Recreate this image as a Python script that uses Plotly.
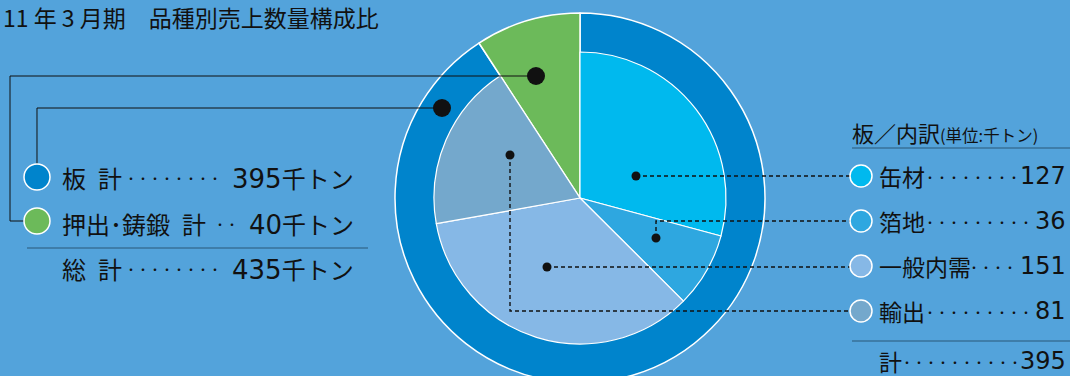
import plotly.graph_objects as go

title_text = "11 年 3 月期　品種別売上数量構成比"

# outer ring: 品種別 (千トン)
total_labels = ["板", "押出･鋳鍛"]
total_values = [395, 40]
total_colors = ["#0084cc", "#6cba5a"]

# inner pie: 板の内訳 (千トン)
plate_labels = ["缶材", "箔地", "一般内需", "輸出"]
plate_values = [127, 36, 151, 81]
plate_colors = ["#00b9ee", "#2ea7e0", "#86b8e6", "#74a8cc"]

W, H = 1070, 384
BG = "#53a3db"
FONT = "Noto Sans CJK JP"
NUMFONT = "DejaVu Sans"
INK = "#111111"
SP = "\u2002"


def px(x):
    return x / W


def py(y):
    return 1 - y / H


def circle(cx, cy, r, fill, line_color=None, lw=0):
    return dict(type="circle", xref="paper", yref="paper",
                x0=px(cx - r), x1=px(cx + r), y0=py(cy + r), y1=py(cy - r),
                fillcolor=fill, line=dict(color=line_color or fill, width=lw))


def path(pts, dash=None, width=1):
    d = "M %f %f " % (px(pts[0][0]), py(pts[0][1]))
    d += " ".join("L %f %f" % (px(a), py(b)) for a, b in pts[1:])
    ln = dict(color=INK, width=width)
    if dash:
        ln["dash"] = dash
    return dict(type="path", xref="paper", yref="paper", path=d, line=ln)


def hline(x0, x1, y):
    return dict(type="line", xref="paper", yref="paper", x0=px(x0), x1=px(x1),
                y0=py(y), y1=py(y), line=dict(color="#2b5878", width=1.2))


def text(x, y, s, size, anchor="left", family=FONT):
    return dict(x=px(x), y=py(y), xref="paper", yref="paper", text=s,
                showarrow=False, xanchor=anchor, yanchor="middle",
                font=dict(family=family, size=size, color=INK))


fig = go.Figure()

# outer ring (full pie underneath)
fig.add_trace(go.Pie(
    values=total_values, labels=total_labels, sort=False, direction="clockwise",
    marker=dict(colors=total_colors, line=dict(color="white", width=1.5)),
    textinfo="none", hoverinfo="label+value", showlegend=False,
    domain=dict(x=[px(395), px(765)], y=[py(383), py(13)]),
))

# inner pie, the green slice left transparent so the ring's green shows through
fig.add_trace(go.Pie(
    values=plate_values + [total_values[1]], labels=plate_labels + [total_labels[1]],
    sort=False, direction="clockwise",
    marker=dict(colors=plate_colors + ["rgba(0,0,0,0)"],
                line=dict(color=["white"] * 4 + ["rgba(0,0,0,0)"], width=1.2)),
    textinfo="none", hoverinfo="label+value", showlegend=False,
    domain=dict(x=[px(434), px(726)], y=[py(344), py(52)]),
))

shapes = []
ann = [text(1, 17, title_text, 23)]

# left legend
shapes.append(path([(536, 76), (10, 76), (10, 221), (24, 221)]))
shapes.append(path([(442, 108), (37, 108), (37, 164)]))
shapes.append(circle(536, 76, 9, INK))
shapes.append(circle(442, 108, 9, INK))

left_rows = [
    (total_labels[0] + SP + "計", total_values[0], 177, 129, 8, total_colors[0], 177),
    (total_labels[1] + SP + "計", total_values[1], 223, 218, 2, total_colors[1], 221),
    ("総" + SP + "計", sum(total_values), 268, 129, 8, None, None),
]
for lab, val, y, dx, nd, col, cy in left_rows:
    if col:
        shapes.append(circle(37, cy, 13, col, "white", 1.5))
    ann.append(text(60, y, lab, 24))
    ann.append(text(dx - 6, y + 1, "・" * nd, 12))
    ann.append(text(356, y, "<span style='font-family:%s;font-size:26px'>%d</span>千トン"
                    % (NUMFONT, val), 24, "right"))
shapes.append(hline(27, 368, 248))

# right legend
ann.append(text(850, 132, "板／内訳<span style='font-size:16.5px'>(単位:千トン)</span>", 22))
shapes.append(hline(852, 1070, 148))
shapes.append(hline(852, 1070, 341))

right_y = [176, 221, 266, 311]
dot_start = [928, 928, 972, 928]
dot_count = [8, 9, 4, 9]
leaders = [
    [(636, 176), (850, 176)],
    [(656, 238), (656, 221), (850, 221)],
    [(547, 267), (850, 267)],
    [(510, 155), (510, 311), (850, 311)],
]
for i, lab in enumerate(plate_labels):
    y = right_y[i]
    shapes.append(path(leaders[i], dash="4px,3px", width=1.4))
    shapes.append(circle(leaders[i][0][0], leaders[i][0][1], 4.5, INK))
    shapes.append(circle(861, y, 11, plate_colors[i], "white", 1.5))
    ann.append(text(877, y, lab, 23))
    ann.append(text(dot_start[i] - 6, y + 1, "・" * dot_count[i], 12))
    ann.append(text(1068, y, str(plate_values[i]), 24, "right", NUMFONT))

ann.append(text(877, 361, "計", 23))
ann.append(text(905 - 6, 362, "・" * 10, 12))
ann.append(text(1068, 361, str(sum(plate_values)), 24, "right", NUMFONT))

fig.update_layout(
    width=W, height=H,
    margin=dict(l=0, r=0, t=0, b=0),
    paper_bgcolor=BG, plot_bgcolor=BG,
    shapes=shapes, annotations=ann,
    showlegend=False,
)

fig.write_html("out.html", config={"displayModeBar": False}, post_script=(
    "document.body.style.margin='0';"
    "document.body.style.overflow='hidden';"
    "document.documentElement.style.overflow='hidden';"))
